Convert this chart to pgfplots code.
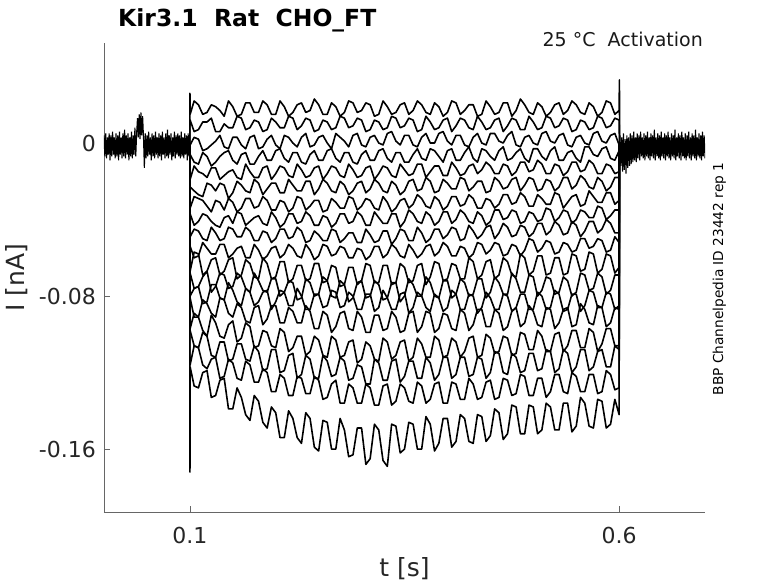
\documentclass[border=0pt]{standalone}
\usepackage{fontspec}
\setmainfont{DejaVu Sans}
\usepackage{pgfplots}
\usepackage{pgfplotstable}
\pgfplotsset{compat=1.18}
\begin{document}
\pgfplotstableread[row sep=\\]{
t y1 y2 y3 y4 y5 y6 y7 y8 y9 y10 y11 y12 y13 y14 y15 y16 y17 y18\\
0.1 0 0 0 0 0 0 0 0 0 0 0 0 0 0 0 0 0 0\\
0.1001 0.026 0.012 -0.001 -0.006 -0.019 -0.023 -0.034 -0.037 -0.049 -0.054 -0.067 -0.068 -0.080 -0.081 -0.097 -0.098 -0.116 -0.172\\
0.1003 0.015 0.012 -0.001 -0.006 -0.019 -0.023 -0.034 -0.037 -0.049 -0.054 -0.067 -0.068 -0.080 -0.081 -0.097 -0.098 -0.116 -0.117\\
0.105 0.022 0.006 0.003 -0.010 -0.012 -0.025 -0.028 -0.043 -0.045 -0.060 -0.057 -0.076 -0.076 -0.091 -0.089 -0.106 -0.106 -0.127\\
0.11 0.020 0.007 0.002 -0.011 -0.015 -0.027 -0.029 -0.041 -0.046 -0.059 -0.058 -0.075 -0.075 -0.091 -0.091 -0.107 -0.107 -0.128\\
0.115 0.015 0.011 -0.004 -0.005 -0.016 -0.028 -0.030 -0.037 -0.050 -0.052 -0.069 -0.070 -0.084 -0.082 -0.098 -0.099 -0.116 -0.120\\
0.12 0.016 0.011 -0.003 -0.007 -0.018 -0.021 -0.033 -0.038 -0.051 -0.055 -0.067 -0.067 -0.083 -0.084 -0.101 -0.101 -0.118 -0.119\\
0.125 0.020 0.013 -0.001 -0.012 -0.013 -0.022 -0.036 -0.041 -0.044 -0.058 -0.061 -0.078 -0.074 -0.089 -0.090 -0.111 -0.113 -0.133\\
0.13 0.019 0.006 0.001 -0.010 -0.013 -0.025 -0.030 -0.043 -0.047 -0.058 -0.060 -0.075 -0.074 -0.091 -0.094 -0.112 -0.112 -0.132\\
0.135 0.017 0.006 0.004 -0.007 -0.019 -0.021 -0.031 -0.044 -0.051 -0.053 -0.069 -0.068 -0.081 -0.081 -0.101 -0.104 -0.123 -0.124\\
0.14 0.014 0.010 -0.002 -0.005 -0.017 -0.022 -0.035 -0.039 -0.050 -0.053 -0.067 -0.069 -0.082 -0.082 -0.102 -0.104 -0.122 -0.123\\
0.145 0.022 0.008 -0.003 -0.004 -0.015 -0.029 -0.029 -0.038 -0.044 -0.060 -0.061 -0.076 -0.073 -0.089 -0.095 -0.114 -0.113 -0.139\\
0.15 0.019 0.008 0.003 -0.009 -0.014 -0.026 -0.031 -0.042 -0.045 -0.058 -0.060 -0.075 -0.077 -0.091 -0.093 -0.113 -0.115 -0.139\\
0.155 0.014 0.014 0.003 -0.011 -0.018 -0.020 -0.036 -0.036 -0.049 -0.055 -0.071 -0.068 -0.083 -0.084 -0.104 -0.105 -0.123 -0.128\\
0.16 0.015 0.013 -0.001 -0.006 -0.019 -0.022 -0.034 -0.037 -0.049 -0.054 -0.069 -0.070 -0.085 -0.086 -0.102 -0.105 -0.124 -0.133\\
0.165 0.021 0.007 -0.003 -0.005 -0.011 -0.025 -0.029 -0.043 -0.044 -0.060 -0.061 -0.076 -0.076 -0.093 -0.094 -0.113 -0.114 -0.142\\
0.17 0.021 0.008 0.003 -0.011 -0.015 -0.026 -0.029 -0.041 -0.046 -0.060 -0.063 -0.078 -0.078 -0.094 -0.096 -0.114 -0.116 -0.145\\
0.175 0.016 0.012 0.004 -0.011 -0.018 -0.019 -0.034 -0.039 -0.051 -0.053 -0.070 -0.068 -0.085 -0.086 -0.107 -0.106 -0.125 -0.132\\
0.18 0.016 0.011 -0.003 -0.007 -0.018 -0.021 -0.033 -0.038 -0.051 -0.056 -0.071 -0.072 -0.083 -0.085 -0.106 -0.109 -0.125 -0.135\\
0.185 0.022 0.006 -0.002 -0.004 -0.013 -0.027 -0.028 -0.042 -0.046 -0.061 -0.060 -0.077 -0.078 -0.095 -0.098 -0.119 -0.118 -0.146\\
0.19 0.020 0.007 0.002 -0.009 -0.012 -0.024 -0.030 -0.043 -0.047 -0.059 -0.063 -0.078 -0.077 -0.092 -0.099 -0.118 -0.120 -0.149\\
0.195 0.015 0.013 0.004 -0.009 -0.019 -0.021 -0.035 -0.036 -0.052 -0.055 -0.071 -0.071 -0.087 -0.085 -0.106 -0.108 -0.130 -0.138\\
0.20 0.015 0.011 -0.001 -0.004 -0.016 -0.021 -0.035 -0.039 -0.050 -0.054 -0.070 -0.071 -0.083 -0.085 -0.107 -0.108 -0.130 -0.141\\
0.205 0.022 0.008 -0.003 -0.003 -0.012 -0.026 -0.030 -0.044 -0.045 -0.060 -0.062 -0.080 -0.077 -0.094 -0.097 -0.120 -0.121 -0.154\\
0.21 0.019 0.008 0.004 -0.008 -0.013 -0.026 -0.031 -0.042 -0.045 -0.058 -0.062 -0.078 -0.078 -0.094 -0.099 -0.119 -0.123 -0.154\\
0.215 0.014 0.014 0.003 -0.010 -0.017 -0.019 -0.036 -0.037 -0.050 -0.053 -0.073 -0.072 -0.085 -0.086 -0.109 -0.111 -0.132 -0.140\\
0.22 0.016 0.013 0.000 -0.005 -0.018 -0.022 -0.034 -0.037 -0.049 -0.055 -0.071 -0.073 -0.085 -0.088 -0.107 -0.110 -0.132 -0.144\\
0.225 0.020 0.007 -0.002 -0.005 -0.011 -0.025 -0.028 -0.042 -0.044 -0.059 -0.064 -0.082 -0.076 -0.094 -0.101 -0.123 -0.122 -0.154\\
0.23 0.021 0.009 0.003 -0.010 -0.014 -0.025 -0.029 -0.041 -0.046 -0.060 -0.064 -0.081 -0.080 -0.094 -0.101 -0.121 -0.123 -0.157\\
0.235 0.016 0.013 0.005 -0.011 -0.018 -0.020 -0.035 -0.036 -0.052 -0.053 -0.072 -0.071 -0.087 -0.085 -0.111 -0.111 -0.131 -0.141\\
0.24 0.017 0.012 -0.002 -0.006 -0.017 -0.020 -0.033 -0.038 -0.051 -0.056 -0.071 -0.073 -0.087 -0.088 -0.109 -0.113 -0.131 -0.144\\
0.245 0.023 0.006 -0.001 -0.004 -0.013 -0.027 -0.030 -0.043 -0.046 -0.061 -0.063 -0.080 -0.079 -0.097 -0.101 -0.123 -0.122 -0.159\\
0.25 0.020 0.007 0.003 -0.009 -0.012 -0.024 -0.030 -0.043 -0.048 -0.059 -0.063 -0.079 -0.079 -0.097 -0.103 -0.123 -0.124 -0.161\\
0.255 0.015 0.012 0.004 -0.009 -0.019 -0.019 -0.036 -0.038 -0.051 -0.053 -0.073 -0.070 -0.086 -0.088 -0.111 -0.111 -0.134 -0.145\\
0.26 0.015 0.011 0.000 -0.004 -0.016 -0.021 -0.035 -0.039 -0.051 -0.054 -0.072 -0.072 -0.085 -0.090 -0.112 -0.114 -0.133 -0.146\\
0.265 0.021 0.007 -0.003 -0.003 -0.012 -0.025 -0.029 -0.044 -0.045 -0.059 -0.064 -0.080 -0.077 -0.099 -0.101 -0.122 -0.126 -0.160\\
0.27 0.019 0.008 0.005 -0.008 -0.013 -0.026 -0.031 -0.042 -0.046 -0.058 -0.065 -0.081 -0.078 -0.096 -0.103 -0.121 -0.124 -0.160\\
0.275 0.014 0.014 0.003 -0.010 -0.017 -0.020 -0.034 -0.037 -0.052 -0.054 -0.075 -0.072 -0.086 -0.089 -0.112 -0.112 -0.136 -0.144\\
0.28 0.016 0.013 0.001 -0.005 -0.018 -0.022 -0.034 -0.037 -0.050 -0.055 -0.074 -0.074 -0.085 -0.088 -0.111 -0.114 -0.136 -0.150\\
0.285 0.022 0.008 -0.002 -0.005 -0.011 -0.027 -0.028 -0.042 -0.047 -0.060 -0.065 -0.083 -0.078 -0.097 -0.104 -0.124 -0.126 -0.164\\
0.29 0.021 0.009 0.004 -0.010 -0.014 -0.025 -0.029 -0.041 -0.047 -0.060 -0.065 -0.081 -0.080 -0.098 -0.103 -0.123 -0.128 -0.163\\
0.295 0.016 0.013 0.005 -0.011 -0.018 -0.021 -0.035 -0.036 -0.052 -0.055 -0.074 -0.073 -0.087 -0.088 -0.115 -0.116 -0.136 -0.149\\
0.30 0.017 0.012 -0.001 -0.006 -0.017 -0.020 -0.033 -0.038 -0.052 -0.056 -0.072 -0.072 -0.087 -0.091 -0.113 -0.117 -0.136 -0.149\\
0.305 0.021 0.006 -0.002 -0.004 -0.013 -0.026 -0.029 -0.043 -0.045 -0.061 -0.063 -0.081 -0.079 -0.099 -0.104 -0.126 -0.126 -0.168\\
0.31 0.020 0.007 0.003 -0.009 -0.012 -0.024 -0.030 -0.043 -0.048 -0.059 -0.064 -0.080 -0.079 -0.099 -0.106 -0.126 -0.128 -0.165\\
0.315 0.014 0.012 0.004 -0.009 -0.019 -0.019 -0.034 -0.036 -0.052 -0.054 -0.073 -0.072 -0.088 -0.090 -0.113 -0.113 -0.137 -0.147\\
0.32 0.015 0.011 0.000 -0.004 -0.016 -0.021 -0.035 -0.039 -0.051 -0.054 -0.073 -0.074 -0.086 -0.090 -0.114 -0.115 -0.137 -0.150\\
0.325 0.022 0.007 -0.001 -0.003 -0.012 -0.025 -0.028 -0.042 -0.046 -0.060 -0.064 -0.082 -0.077 -0.098 -0.102 -0.124 -0.127 -0.166\\
0.33 0.019 0.008 0.005 -0.008 -0.013 -0.026 -0.031 -0.042 -0.046 -0.058 -0.064 -0.081 -0.081 -0.097 -0.104 -0.124 -0.126 -0.169\\
0.335 0.015 0.014 0.006 -0.010 -0.017 -0.020 -0.036 -0.037 -0.053 -0.053 -0.074 -0.073 -0.087 -0.088 -0.113 -0.114 -0.137 -0.147\\
0.34 0.016 0.013 0.001 -0.005 -0.018 -0.022 -0.034 -0.037 -0.050 -0.055 -0.073 -0.073 -0.087 -0.091 -0.111 -0.113 -0.135 -0.148\\
0.345 0.020 0.008 -0.001 -0.005 -0.011 -0.027 -0.030 -0.044 -0.045 -0.059 -0.063 -0.083 -0.079 -0.099 -0.104 -0.125 -0.126 -0.162\\
0.35 0.021 0.009 0.004 -0.010 -0.014 -0.025 -0.029 -0.041 -0.046 -0.060 -0.065 -0.080 -0.078 -0.098 -0.103 -0.122 -0.128 -0.160\\
0.355 0.015 0.013 0.004 -0.010 -0.017 -0.020 -0.034 -0.035 -0.051 -0.053 -0.073 -0.071 -0.089 -0.089 -0.114 -0.114 -0.135 -0.146\\
0.36 0.017 0.012 -0.001 -0.006 -0.016 -0.019 -0.032 -0.037 -0.051 -0.056 -0.072 -0.074 -0.086 -0.088 -0.112 -0.114 -0.136 -0.147\\
0.365 0.022 0.006 -0.002 -0.003 -0.011 -0.025 -0.027 -0.041 -0.044 -0.060 -0.064 -0.080 -0.078 -0.099 -0.102 -0.123 -0.125 -0.160\\
0.37 0.020 0.007 0.003 -0.008 -0.011 -0.024 -0.029 -0.042 -0.047 -0.058 -0.063 -0.080 -0.080 -0.096 -0.105 -0.123 -0.127 -0.160\\
0.375 0.016 0.014 0.005 -0.009 -0.018 -0.018 -0.033 -0.036 -0.052 -0.054 -0.074 -0.070 -0.086 -0.088 -0.112 -0.112 -0.136 -0.143\\
0.38 0.015 0.011 0.000 -0.003 -0.015 -0.020 -0.034 -0.038 -0.050 -0.053 -0.070 -0.073 -0.088 -0.089 -0.112 -0.115 -0.134 -0.147\\
0.385 0.021 0.007 0.000 -0.004 -0.012 -0.026 -0.028 -0.043 -0.045 -0.059 -0.062 -0.080 -0.079 -0.099 -0.101 -0.124 -0.126 -0.161\\
0.39 0.019 0.008 0.005 -0.007 -0.012 -0.025 -0.030 -0.041 -0.045 -0.057 -0.063 -0.081 -0.081 -0.097 -0.103 -0.121 -0.125 -0.157\\
0.395 0.014 0.012 0.006 -0.010 -0.017 -0.019 -0.035 -0.036 -0.050 -0.052 -0.072 -0.072 -0.088 -0.089 -0.112 -0.112 -0.136 -0.144\\
0.40 0.016 0.013 0.001 -0.004 -0.017 -0.021 -0.033 -0.036 -0.048 -0.054 -0.071 -0.072 -0.086 -0.090 -0.111 -0.112 -0.136 -0.144\\
0.405 0.022 0.006 -0.001 -0.003 -0.010 -0.024 -0.028 -0.042 -0.044 -0.059 -0.063 -0.081 -0.077 -0.097 -0.102 -0.123 -0.125 -0.159\\
0.41 0.021 0.009 0.004 -0.009 -0.013 -0.024 -0.028 -0.040 -0.045 -0.059 -0.064 -0.079 -0.079 -0.098 -0.104 -0.121 -0.126 -0.156\\
0.415 0.015 0.013 0.004 -0.009 -0.017 -0.018 -0.033 -0.035 -0.051 -0.054 -0.071 -0.071 -0.087 -0.087 -0.112 -0.112 -0.134 -0.142\\
0.42 0.017 0.012 -0.001 -0.005 -0.016 -0.019 -0.032 -0.037 -0.050 -0.055 -0.071 -0.073 -0.087 -0.089 -0.109 -0.112 -0.134 -0.144\\
0.425 0.020 0.008 -0.002 -0.002 -0.012 -0.025 -0.027 -0.041 -0.043 -0.060 -0.060 -0.080 -0.079 -0.098 -0.102 -0.122 -0.123 -0.156\\
0.43 0.020 0.007 0.003 -0.008 -0.011 -0.023 -0.029 -0.042 -0.046 -0.058 -0.062 -0.079 -0.080 -0.095 -0.101 -0.121 -0.126 -0.157\\
0.435 0.014 0.014 0.005 -0.010 -0.016 -0.020 -0.034 -0.036 -0.050 -0.052 -0.071 -0.071 -0.089 -0.087 -0.112 -0.112 -0.134 -0.142\\
0.44 0.015 0.011 0.000 -0.003 -0.014 -0.020 -0.034 -0.038 -0.048 -0.053 -0.069 -0.071 -0.086 -0.087 -0.111 -0.113 -0.133 -0.143\\
0.445 0.022 0.007 -0.001 -0.004 -0.010 -0.026 -0.029 -0.043 -0.044 -0.058 -0.062 -0.081 -0.078 -0.096 -0.100 -0.123 -0.125 -0.156\\
0.45 0.019 0.008 0.005 -0.007 -0.012 -0.025 -0.030 -0.041 -0.043 -0.056 -0.061 -0.078 -0.081 -0.096 -0.102 -0.120 -0.124 -0.153\\
0.455 0.015 0.012 0.005 -0.009 -0.016 -0.018 -0.034 -0.035 -0.050 -0.052 -0.071 -0.070 -0.087 -0.087 -0.110 -0.109 -0.134 -0.139\\
0.46 0.016 0.013 0.001 -0.004 -0.016 -0.020 -0.032 -0.035 -0.047 -0.053 -0.069 -0.073 -0.087 -0.089 -0.109 -0.110 -0.133 -0.141\\
0.465 0.021 0.006 0.000 -0.002 -0.011 -0.024 -0.027 -0.040 -0.042 -0.059 -0.060 -0.079 -0.079 -0.098 -0.101 -0.120 -0.123 -0.155\\
0.47 0.021 0.009 0.004 -0.009 -0.012 -0.023 -0.027 -0.039 -0.044 -0.058 -0.062 -0.079 -0.080 -0.096 -0.102 -0.121 -0.124 -0.152\\
0.475 0.014 0.013 0.006 -0.008 -0.017 -0.019 -0.032 -0.035 -0.049 -0.053 -0.069 -0.068 -0.088 -0.088 -0.111 -0.110 -0.132 -0.137\\
0.48 0.017 0.012 -0.001 -0.005 -0.015 -0.018 -0.031 -0.036 -0.048 -0.054 -0.070 -0.071 -0.086 -0.086 -0.110 -0.112 -0.131 -0.138\\
0.485 0.023 0.007 -0.002 -0.003 -0.010 -0.025 -0.026 -0.042 -0.043 -0.059 -0.058 -0.078 -0.079 -0.096 -0.099 -0.120 -0.121 -0.152\\
0.49 0.020 0.007 0.003 -0.008 -0.010 -0.022 -0.028 -0.041 -0.044 -0.056 -0.060 -0.078 -0.079 -0.094 -0.100 -0.119 -0.122 -0.152\\
0.495 0.016 0.014 0.004 -0.010 -0.015 -0.018 -0.033 -0.036 -0.049 -0.050 -0.069 -0.069 -0.087 -0.085 -0.108 -0.110 -0.132 -0.137\\
0.50 0.015 0.011 0.000 -0.003 -0.014 -0.019 -0.033 -0.037 -0.047 -0.051 -0.067 -0.070 -0.087 -0.088 -0.108 -0.110 -0.132 -0.138\\
0.505 0.021 0.007 -0.001 -0.003 -0.009 -0.025 -0.027 -0.041 -0.042 -0.057 -0.059 -0.080 -0.078 -0.095 -0.098 -0.119 -0.123 -0.152\\
0.51 0.019 0.008 0.005 -0.007 -0.011 -0.024 -0.029 -0.040 -0.042 -0.055 -0.059 -0.077 -0.080 -0.096 -0.101 -0.118 -0.123 -0.150\\
0.515 0.014 0.014 0.006 -0.009 -0.016 -0.019 -0.032 -0.034 -0.048 -0.051 -0.069 -0.070 -0.087 -0.086 -0.109 -0.108 -0.133 -0.136\\
0.52 0.016 0.013 0.001 -0.004 -0.016 -0.020 -0.032 -0.035 -0.046 -0.052 -0.068 -0.071 -0.086 -0.087 -0.109 -0.109 -0.130 -0.138\\
0.525 0.020 0.008 0.000 -0.002 -0.011 -0.025 -0.026 -0.041 -0.041 -0.058 -0.060 -0.079 -0.077 -0.097 -0.100 -0.120 -0.121 -0.150\\
0.53 0.021 0.009 0.004 -0.009 -0.012 -0.023 -0.027 -0.039 -0.043 -0.057 -0.060 -0.078 -0.079 -0.094 -0.099 -0.118 -0.121 -0.150\\
0.535 0.015 0.013 0.005 -0.009 -0.017 -0.018 -0.034 -0.035 -0.048 -0.052 -0.069 -0.070 -0.088 -0.087 -0.109 -0.108 -0.130 -0.136\\
0.54 0.017 0.012 -0.001 -0.005 -0.015 -0.018 -0.031 -0.036 -0.047 -0.053 -0.068 -0.072 -0.087 -0.086 -0.106 -0.110 -0.131 -0.136\\
0.545 0.022 0.006 -0.002 -0.004 -0.010 -0.024 -0.028 -0.042 -0.041 -0.057 -0.058 -0.080 -0.079 -0.096 -0.098 -0.120 -0.120 -0.151\\
0.55 0.020 0.007 0.003 -0.008 -0.010 -0.022 -0.027 -0.040 -0.043 -0.056 -0.059 -0.078 -0.079 -0.095 -0.098 -0.117 -0.122 -0.148\\
0.555 0.016 0.012 0.004 -0.010 -0.015 -0.017 -0.033 -0.035 -0.049 -0.050 -0.067 -0.068 -0.088 -0.084 -0.107 -0.108 -0.130 -0.133\\
0.56 0.015 0.011 0.000 -0.002 -0.014 -0.019 -0.032 -0.036 -0.046 -0.050 -0.066 -0.069 -0.085 -0.087 -0.107 -0.108 -0.130 -0.136\\
0.565 0.021 0.007 -0.001 -0.002 -0.009 -0.023 -0.025 -0.039 -0.041 -0.055 -0.057 -0.077 -0.077 -0.094 -0.097 -0.119 -0.121 -0.148\\
0.57 0.019 0.008 0.005 -0.006 -0.011 -0.024 -0.028 -0.039 -0.041 -0.054 -0.058 -0.076 -0.078 -0.095 -0.099 -0.117 -0.121 -0.149\\
0.575 0.014 0.014 0.006 -0.007 -0.016 -0.018 -0.031 -0.033 -0.047 -0.050 -0.068 -0.068 -0.086 -0.085 -0.109 -0.109 -0.131 -0.134\\
0.58 0.016 0.013 0.001 -0.003 -0.016 -0.020 -0.031 -0.034 -0.045 -0.051 -0.066 -0.070 -0.086 -0.086 -0.105 -0.108 -0.130 -0.135\\
0.585 0.022 0.008 0.000 -0.002 -0.011 -0.025 -0.026 -0.040 -0.040 -0.057 -0.058 -0.079 -0.078 -0.096 -0.097 -0.117 -0.119 -0.149\\
0.59 0.021 0.009 0.004 -0.008 -0.012 -0.023 -0.026 -0.038 -0.042 -0.056 -0.059 -0.077 -0.079 -0.094 -0.097 -0.117 -0.121 -0.147\\
0.595 0.015 0.013 0.005 -0.009 -0.016 -0.018 -0.032 -0.035 -0.047 -0.049 -0.068 -0.069 -0.087 -0.086 -0.106 -0.106 -0.129 -0.134\\
0.60 0.017 0.012 -0.001 -0.004 -0.015 -0.018 -0.030 -0.035 -0.047 -0.052 -0.065 -0.069 -0.085 -0.087 -0.106 -0.108 -0.128 -0.142\\
0.6003 0.033 0 0 0 0 0 0 0 0 0 0 0 0 0 0 0 0 0\\
0.6006 0 0 0 0 0 0 0 0 0 0 0 0 0 0 0 0 0 0\\
}\tr
\begin{tikzpicture}
\path[use as bounding box] (0,0) rectangle (778pt,583pt);
\begin{axis}[
  at={(104pt,71pt)}, anchor=south west,
  scale only axis, width=601pt, height=469pt,
  xmin=0, xmax=0.7, ymin=-0.1929, ymax=0.0523,
  axis x line=bottom, axis y line=left,
  axis line style={-, black!60, line width=0.6pt},
  tick align=inside, major tick length=6pt,
  tick style={black!60, line width=0.6pt},
  xtick={0.1,0.6}, xticklabels={0.1,0.6},
  ytick={-0.16,-0.08,0}, yticklabels={-0.16,-0.08,0},
  tick label style={font=\fontsize{22}{26}\selectfont, text=black!85},
  xticklabel style={anchor=north, inner sep=0pt, yshift=-15pt},
  yticklabel style={anchor=east, inner sep=0pt, xshift=-8pt},
  xlabel={t [s]}, ylabel={I [nA]},
  label style={font=\fontsize{25}{30}\selectfont, text=black!85},
  xlabel style={at={(axis description cs:0.5,-0.0959)}, anchor=north, inner sep=0pt},
  ylabel style={at={(axis description cs:-0.1265,0.5)}, anchor=south, inner sep=0pt},
]
\addplot[black, line width=1.1pt] coordinates {(0,0.004)(0.001,-0.007)(0.002,0.005)(0.003,-0.008)(0.004,0.003)(0.005,-0.006)(0.006,0.005)(0.007,-0.009)(0.008,0.004)(0.009,-0.007)(0.010,0.006)(0.011,-0.006)(0.012,0.003)(0.013,-0.008)(0.014,0.005)(0.015,-0.007)(0.016,0.004)(0.017,-0.009)(0.018,0.006)(0.019,-0.006)(0.020,0.003)(0.021,-0.008)(0.022,0.005)(0.023,-0.007)(0.024,0.007)(0.025,-0.008)(0.026,0.004)(0.027,-0.006)(0.028,0.005)(0.029,-0.009)(0.030,0.003)(0.031,-0.007)(0.032,0.006)(0.033,-0.008)(0.034,0.004)(0.035,-0.006)(0.036,0.008)(0.037,-0.007)(0.038,0.005)(0.039,0.013)(0.040,0.003)(0.041,0.015)(0.042,0.002)(0.043,0.016)(0.044,0.004)(0.045,0.014)(0.046,0.003)(0.047,-0.013)(0.048,0.005)(0.049,-0.008)(0.050,0.004)(0.051,-0.007)(0.052,0.006)(0.053,-0.006)(0.054,0.003)(0.055,-0.009)(0.056,0.005)(0.057,-0.007)(0.058,0.004)(0.059,-0.008)(0.060,0.006)(0.061,-0.006)(0.062,0.003)(0.063,-0.008)(0.064,0.005)(0.065,-0.007)(0.066,0.004)(0.067,-0.009)(0.068,0.006)(0.069,-0.006)(0.070,0.003)(0.071,-0.008)(0.072,0.005)(0.073,-0.007)(0.074,0.007)(0.075,-0.008)(0.076,0.004)(0.077,-0.006)(0.078,0.005)(0.079,-0.009)(0.080,0.003)(0.081,-0.007)(0.082,0.006)(0.083,-0.008)(0.084,0.004)(0.085,-0.006)(0.086,0.005)(0.087,-0.007)(0.088,0.004)(0.089,-0.008)(0.090,0.006)(0.091,-0.007)(0.092,0.003)(0.093,-0.008)(0.094,0.005)(0.095,-0.006)(0.096,0.004)(0.097,-0.009)(0.098,0.005)(0.099,-0.007)(0.100,0)};
\addplot[black, line width=1.1pt] coordinates {(0.6006,0)(0.601,0.004)(0.602,-0.012)(0.603,0.003)(0.604,-0.015)(0.605,0.005)(0.606,-0.014)(0.607,0.002)(0.608,-0.016)(0.609,0.004)(0.610,-0.013)(0.611,0.003)(0.612,-0.012)(0.613,0.005)(0.614,-0.011)(0.615,0.004)(0.616,-0.010)(0.617,0.006)(0.618,-0.009)(0.619,0.003)(0.620,-0.010)(0.621,0.005)(0.622,-0.008)(0.623,0.004)(0.624,-0.009)(0.625,0.006)(0.626,-0.007)(0.627,0.003)(0.628,-0.008)(0.629,0.005)(0.630,-0.009)(0.631,0.004)(0.632,-0.007)(0.633,0.006)(0.634,-0.008)(0.635,0.003)(0.636,-0.009)(0.637,0.005)(0.638,-0.007)(0.639,0.004)(0.640,-0.008)(0.641,0.007)(0.642,-0.009)(0.643,0.003)(0.644,-0.007)(0.645,0.005)(0.646,-0.008)(0.647,0.004)(0.648,-0.009)(0.649,0.006)(0.650,-0.007)(0.651,0.003)(0.652,-0.008)(0.653,0.005)(0.654,-0.009)(0.655,0.004)(0.656,-0.007)(0.657,0.006)(0.658,-0.008)(0.659,0.003)(0.660,-0.009)(0.661,0.005)(0.662,-0.007)(0.663,0.004)(0.664,-0.008)(0.665,0.007)(0.666,-0.009)(0.667,0.003)(0.668,-0.007)(0.669,0.005)(0.670,-0.008)(0.671,0.004)(0.672,-0.009)(0.673,0.006)(0.674,-0.007)(0.675,0.003)(0.676,-0.008)(0.677,0.005)(0.678,-0.009)(0.679,0.004)(0.680,-0.007)(0.681,0.006)(0.682,-0.008)(0.683,0.003)(0.684,-0.009)(0.685,0.005)(0.686,-0.007)(0.687,0.004)(0.688,-0.008)(0.689,0.007)(0.690,-0.009)(0.691,0.003)(0.692,-0.007)(0.693,0.005)(0.694,-0.008)(0.695,0.004)(0.696,-0.009)(0.697,0.006)(0.698,-0.007)(0.699,0.004)(0.700,-0.008)};
\pgfplotsinvokeforeach{1,...,18}{
  \addplot[black, line width=1.6pt, line join=round] table[x=t, y=y#1] {\tr};
}
\end{axis}
\node[anchor=base west, inner sep=0pt, font=\fontsize{23.5}{28}\selectfont\bfseries] at (118pt,556pt) {Kir3.1\ \ Rat\ \ CHO\_FT};
\node[anchor=base east, inner sep=0pt, font=\fontsize{19}{23}\selectfont, text=black!90] at (703pt,536pt) {25 °C\ \ Activation};
\node[rotate=90, anchor=base, inner sep=0pt, font=\fontsize{13.7}{16}\selectfont] at (723pt,304pt) {BBP Channelpedia ID 23442 rep 1};
\end{tikzpicture}
\end{document}
